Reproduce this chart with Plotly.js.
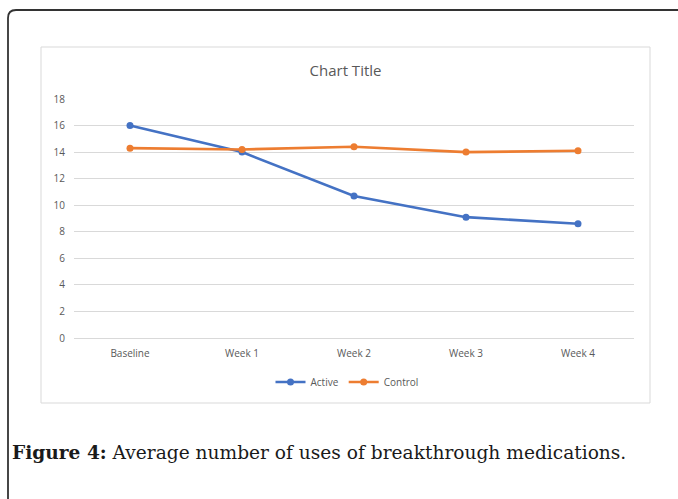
<!DOCTYPE html>
<html>
<head>
<meta charset="utf-8">
<script src="https://cdn.plot.ly/plotly-3.0.1.min.js"></script>
<style>
  html, body { margin: 0; padding: 0; background: #fff; }
  #chart { width: 678px; height: 499px; }
</style>
</head>
<body>
<div id="chart"></div>
<script>
const categories = ["Baseline", "Week 1", "Week 2", "Week 3", "Week 4"];
const activeValues = [16.0, 14.0, 10.7, 9.1, 8.6];
const controlValues = [14.3, 14.2, 14.4, 14.0, 14.1];
const yTickValues = [0, 2, 4, 6, 8, 10, 12, 14, 16, 18];
const chartTitle = "Chart Title";
const captionBold = "Figure 4:";
const captionText = "Average number of uses of breakthrough medications.";

// pixel geometry helpers (plot area 74..634 x, 99..338 y)
const PL = 74, PR = 634, PT = 99, PB = 338, W = 678, H = 499;
const px = v => (v - PL) / (PR - PL);
const py = v => (PB - v) / (PB - PT);

const tickFont = { family: "Open Sans, Noto Sans, sans-serif", size: 10, color: "#595959" };

const traces = [
  {
    x: categories, y: activeValues, name: "Active", type: "scatter", mode: "lines+markers",
    line: { color: "#4472C4", width: 2.6 },
    marker: { color: "#4472C4", size: 7 }
  },
  {
    x: categories, y: controlValues, name: "Control", type: "scatter", mode: "lines+markers",
    line: { color: "#ED7D31", width: 2.6 },
    marker: { color: "#ED7D31", size: 7 }
  }
];

const r = 8;
const outerPath =
  `M ${px(8)} ${py(H + 5)} L ${px(8)} ${py(10 + r)} ` +
  `Q ${px(8)} ${py(10)} ${px(8 + r)} ${py(10)} L ${px(W + 5)} ${py(10)}`;

const layout = {
  width: W, height: H,
  margin: { l: PL, r: W - PR, t: PT, b: H - PB, pad: 0 },
  paper_bgcolor: "#ffffff",
  plot_bgcolor: "#ffffff",
  showlegend: true,
  title: {
    text: chartTitle,
    font: { family: "Open Sans, Noto Sans, sans-serif", size: 15, color: "#595959" },
    x: 345.5 / W, xanchor: "center", xref: "container",
    y: 1 - 71 / H, yanchor: "middle", yref: "container"
  },
  xaxis: {
    type: "category",
    range: [-0.5, 4.5],
    showgrid: false, zeroline: false, showline: false,
    ticks: "", tickfont: tickFont,
    ticklabelstandoff: 8,
    fixedrange: true
  },
  yaxis: {
    range: [0, 18],
    tickvals: yTickValues,
    ticktext: yTickValues.map(String),
    showgrid: true, gridcolor: "#d9d9d9", gridwidth: 1,
    zeroline: true, zerolinecolor: "#d9d9d9", zerolinewidth: 1,
    showline: false, ticks: "",
    ticklabelstandoff: 8,
    tickfont: tickFont,
    fixedrange: true
  },
  legend: {
    orientation: "h",
    x: px(347), xanchor: "center",
    y: py(382), yanchor: "middle",
    font: tickFont,
    itemwidth: 30,
    tracegroupgap: 0,
    bgcolor: "rgba(0,0,0,0)"
  },
  shapes: [
    {
      type: "rect", xref: "paper", yref: "paper",
      x0: px(41), x1: px(650), y0: py(403), y1: py(47),
      line: { color: "#d9d9d9", width: 1 }, fillcolor: "rgba(0,0,0,0)", layer: "below"
    },
    {
      type: "path", xref: "paper", yref: "paper",
      path: outerPath,
      line: { color: "#333333", width: 1.8 }
    }
  ],
  annotations: [
    {
      xref: "paper", yref: "paper",
      x: px(10), xanchor: "left",
      y: py(452), yanchor: "middle",
      text: "<b>" + captionBold + "</b> " + captionText,
      showarrow: false,
      font: { family: "DejaVu Serif, Liberation Serif, serif", size: 18.6, color: "#1a1a1a" }
    }
  ]
};

Plotly.newPlot("chart", traces, layout, { displayModeBar: false, staticPlot: true });
</script>
</body>
</html>
